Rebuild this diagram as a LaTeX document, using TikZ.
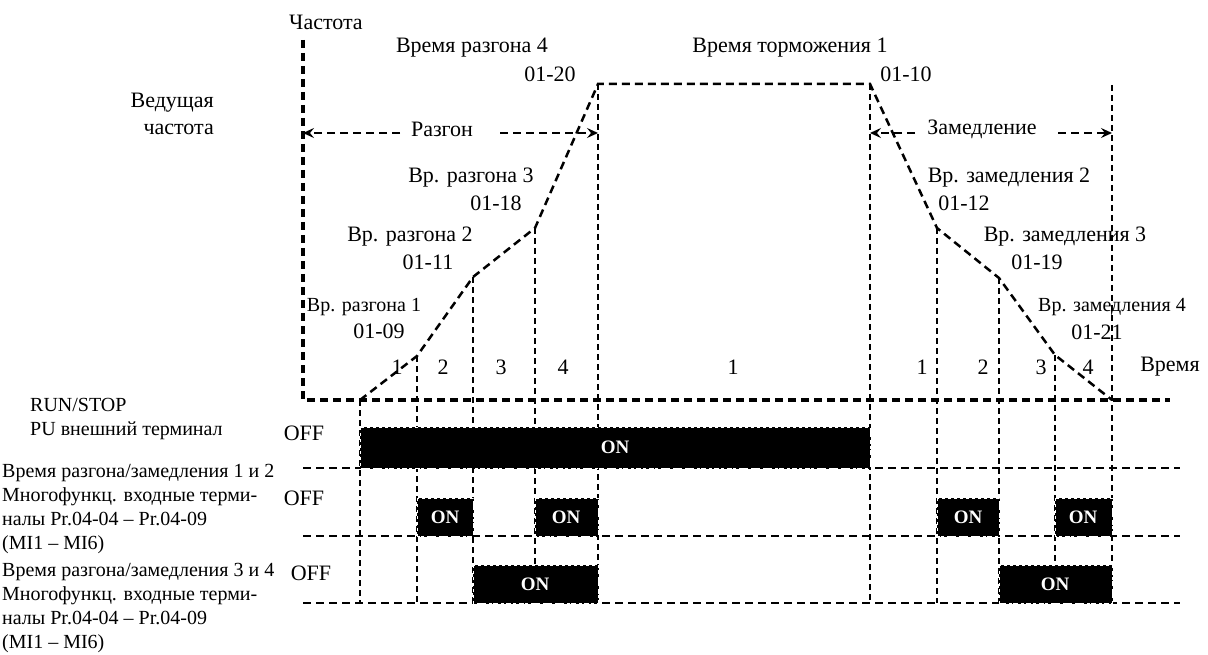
\documentclass[tikz,border=0pt]{standalone}
\usepackage{fontspec}
\setmainfont{Liberation Serif}
\usetikzlibrary{arrows.meta}
\begin{document}
\begin{tikzpicture}[x=1pt,y=-1pt,
  axisline/.style={line width=3.5pt, dash pattern=on 8pt off 5pt},
  curveline/.style={line width=2.5pt, dash pattern=on 8pt off 5pt},
  vline/.style={line width=1.5pt, dash pattern=on 6pt off 4pt},
  hline/.style={line width=2.5pt, dash pattern=on 8pt off 5pt},
  big/.style={font=\fontsize{22}{24}\selectfont, inner sep=0pt},
  small/.style={font=\fontsize{20}{22}\selectfont, inner sep=0pt},
  lab/.style={font=\fontsize{20}{24}\selectfont, inner sep=0pt, anchor=west, align=left},
  offlab/.style={font=\fontsize{22}{22}\selectfont, inner sep=0pt},
  onbox/.style={fill=black, draw=white, line width=0.6pt, dash pattern=on 3pt off 3pt},
  ontext/.style={text=white, font=\bfseries\fontsize{19}{19}\selectfont, inner sep=0pt},
  arr/.style={line width=2pt, dash pattern=on 8pt off 5pt, -{Stealth[length=11pt,width=10pt,inset=4pt]}},
]
\useasboundingbox (0,0) rectangle (1208,655);

% key coordinates
\coordinate (otop) at (303,40);
\coordinate (o) at (303,400);
\coordinate (xend) at (1170,400);
\coordinate (c0) at (360,400);
\coordinate (c1) at (417,356);
\coordinate (c2) at (473,277);
\coordinate (c3) at (535,228);
\coordinate (c4) at (598,84);
\coordinate (c5) at (870,84);
\coordinate (c6) at (937,228);
\coordinate (c7) at (999,278);
\coordinate (c8) at (1055,355);
\coordinate (c9) at (1112,400);
\coordinate (endtop) at (1112,85);

% vertical guide lines
\foreach \c/\yb in {c0/603,c1/603,c2/603,c3/565,c4/603,c5/603,c6/603,c7/603,c8/565}{
  \draw[vline] (\c) -- (\c |- 0,\yb);
}
\draw[vline] (endtop) -- (endtop |- 0,603);

% row base lines
\coordinate (r1a) at (303,468); \coordinate (r1b) at (1180,468);
\coordinate (r2a) at (303,536); \coordinate (r2b) at (1180,536);
\coordinate (r3a) at (303,603); \coordinate (r3b) at (1180,603);
\draw[hline] (r1a) -- (r1b);
\draw[hline] (r2a) -- (r2b);
\draw[hline] (r3a) -- (r3b);

% axes
\draw[axisline] (otop) -- (o) -- (xend);

% frequency curve
\draw[curveline] (c0) -- (c1) -- (c2) -- (c3) -- (c4) -- (c5) -- (c6) -- (c7) -- (c8) -- (c9);

% arrows
\coordinate (ra1) at (400,133); \coordinate (ra0) at (303,133);
\coordinate (rb1) at (500,133); \coordinate (rb0) at (598,133);
\draw[arr] (ra1) -- (ra0);
\draw[arr] (rb1) -- (rb0);
\coordinate (za1) at (915,133); \coordinate (za0) at (870,133);
\coordinate (zb1) at (1058,133); \coordinate (zb0) at (1112,133);
\draw[arr] (za1) -- (za0);
\draw[arr] (zb1) -- (zb0);

% ON boxes
\draw[onbox] (360,427) rectangle (870,468);
\node[ontext] (on1) at (615,447) {ON};
\draw[onbox] (417,498) rectangle (473,536);
\node[ontext] (on2) at (445,517) {ON};
\draw[onbox] (535,498) rectangle (598,536);
\node[ontext] (on3) at (566,517) {ON};
\draw[onbox] (937,498) rectangle (999,536);
\node[ontext] (on4) at (968,517) {ON};
\draw[onbox] (1055,498) rectangle (1112,536);
\node[ontext] (on5) at (1083,517) {ON};
\draw[onbox] (473,565) rectangle (598,603);
\node[ontext] (on6) at (535,584) {ON};
\draw[onbox] (999,565) rectangle (1112,603);
\node[ontext] (on7) at (1055,584) {ON};

% texts
\node[big] (freq) at (326,22) {Частота};
\node[big, align=right, anchor=east] (master) at (214,114) {Ведущая\\[3pt]частота};
\node[big] (t4) at (472,48) {Время разгона 4};
\node[big] (n20) at (550,74) {01-20};
\node[big] (tb1) at (790,48) {Время торможения 1};
\node[big] (n10) at (906,74) {01-10};
\node[big] (razgon) at (442,129) {Разгон};
\node[big] (zamed) at (982,129) {Замедление};
\node[big] (a3) at (471,178) {Вр. разгона 3};
\node[big] (n18) at (496,203) {01-18};
\node[big] (a2) at (410,237) {Вр. разгона 2};
\node[big] (n11) at (428,262) {01-11};
\node[small] (a1) at (364,307) {Вр. разгона 1};
\node[big] (n09) at (379,331) {01-09};
\node[big] (d2) at (1009,178) {Вр. замедления 2};
\node[big] (n12) at (964,203) {01-12};
\node[big] (d3) at (1065,237) {Вр. замедления 3};
\node[big] (n19) at (1037,262) {01-19};
\node[small] (d4) at (1112,307) {Вр. замедления 4};
\node[big] (n21) at (1097,332) {01-21};
% segment numbers
\node[big] (s1) at (397,367) {1};
\node[big] (s2) at (443,367) {2};
\node[big] (s3) at (501,367) {3};
\node[big] (s4) at (563,367) {4};
\node[big] (s5) at (733,367) {1};
\node[big] (s6) at (922,367) {1};
\node[big] (s7) at (983,367) {2};
\node[big] (s8) at (1041,367) {3};
\node[big] (s9) at (1088,367) {4};
\node[big] (time) at (1170,367) {Время};

% left labels
\node[lab] (l1) at (30,419) {RUN/STOP\\PU внешний терминал};
\node[lab] (l2) at (2,509) {Время разгона/замедления 1 и 2\\Многофункц. входные терми-\\налы Pr.04-04 – Pr.04-09\\(MI1 – MI6)};
\node[lab] (l3) at (2,608) {Время разгона/замедления 3 и 4\\Многофункц. входные терми-\\налы Pr.04-04 – Pr.04-09\\(MI1 – MI6)};
\node[offlab] (off1) at (304,433) {OFF};
\node[offlab] (off2) at (304,498) {OFF};
\node[offlab] (off3) at (311,573) {OFF};
\end{tikzpicture}
\end{document}
